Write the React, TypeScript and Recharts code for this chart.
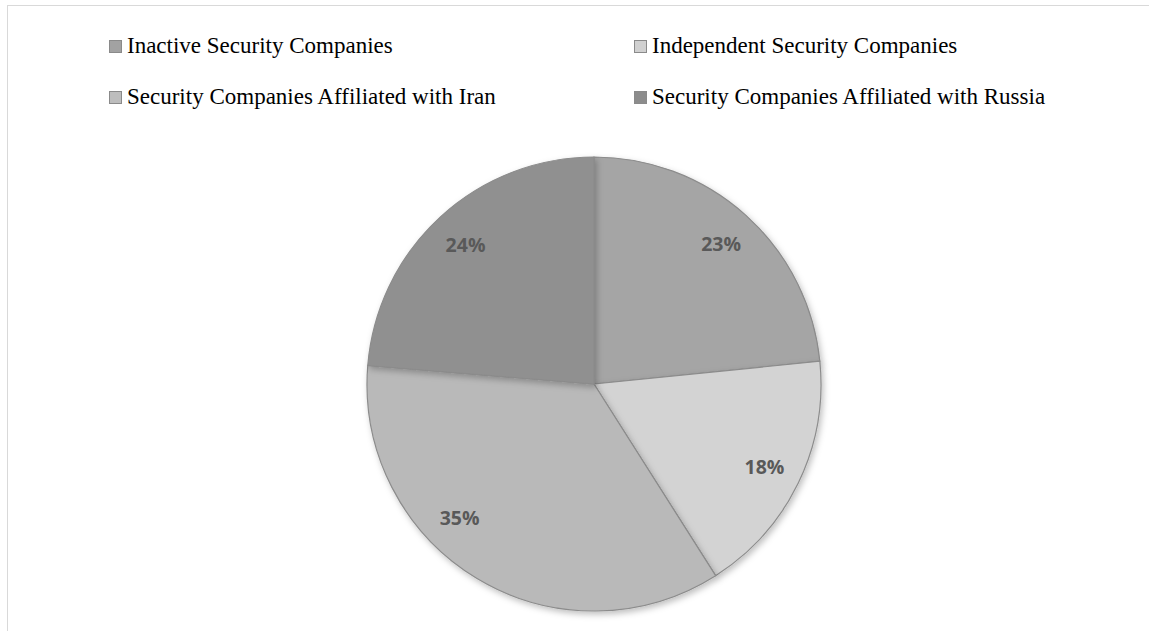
import React from 'react';
import { PieChart, Pie, Cell, Legend } from 'recharts';

const categories = [
  'Inactive Security Companies',
  'Independent Security Companies',
  'Security Companies Affiliated with Iran',
  'Security Companies Affiliated with Russia',
];
const shares = [23.4, 17.6, 35.3, 23.7];
const colors = ['#a5a5a5', '#d3d3d3', '#b9b9b9', '#909090'];
const legendColors = ['#a2a2a2', '#d0d0d0', '#bdbdbd', '#8c8c8c'];
const labelAngleShift = [0, 0, -14, 0];

const data = categories.map((name, i) => ({ name, value: shares[i] }));

const RAD = Math.PI / 180;

const renderLabel = (props: any) => {
  const { cx, cy, midAngle, outerRadius, value, index } = props;
  const a = (midAngle + labelAngleShift[index]) * RAD;
  const r = outerRadius * 0.835;
  const x = cx + r * Math.cos(a);
  const y = cy - r * Math.sin(a);
  return (
    <text
      x={x}
      y={y}
      fill="#595959"
      textAnchor="middle"
      dominantBaseline="central"
      style={{ fontFamily: '"Open Sans", "Liberation Sans", sans-serif', fontWeight: 700, fontSize: 19.5 }}
    >
      {`${Math.round(value)}%`}
    </text>
  );
};

const renderLegend = () => {
  const colX = [109, 634];
  const rowY = [40, 91];
  return (
    <div style={{ position: 'relative', width: 1149, height: 120 }}>
      {categories.map((c, i) => (
        <div
          key={c}
          style={{
            position: 'absolute',
            left: colX[i % 2],
            top: rowY[Math.floor(i / 2)] - 8,
            display: 'flex',
            alignItems: 'center',
            fontFamily: '"Liberation Serif", "Times New Roman", serif',
            fontSize: 23,
            color: '#000',
            whiteSpace: 'nowrap',
            lineHeight: '28px',
          }}
        >
          <span
            style={{
              display: 'inline-block',
              width: 11,
              height: 11,
              background: legendColors[i],
              border: '1px solid #8a8a8a',
              marginRight: 5,
              boxSizing: 'content-box',
            }}
          />
          {c}
        </div>
      ))}
    </div>
  );
};

export default function App() {
  return (
    <div style={{ position: 'absolute', left: 0, top: 0, width: 1149, height: 631, background: '#fff', overflow: 'hidden' }}>
      <div
        style={{
          position: 'absolute',
          left: 7,
          top: 5,
          width: 1160,
          height: 640,
          borderTop: '1px solid #d9d9d9',
          borderLeft: '1px solid #d9d9d9',
          boxSizing: 'border-box',
        }}
      />
      <div style={{ position: 'absolute', left: 0, top: 0 }}>
        <PieChart width={1149} height={631} margin={{ top: 0, right: 0, bottom: 0, left: 0 }}>
          <defs>
            <filter id="pieShadow" x="-10%" y="-10%" width="120%" height="120%">
              <feDropShadow dx="2" dy="3" stdDeviation="3" floodColor="#000" floodOpacity="0.25" />
            </filter>
          </defs>
          <Legend
            content={renderLegend}
            wrapperStyle={{ position: 'absolute', left: 0, top: 0, width: 1149 }}
          />
          <Pie
            data={data}
            dataKey="value"
            nameKey="name"
            cx={594}
            cy={384}
            outerRadius={227}
            startAngle={90}
            endAngle={-270}
            stroke="#8c8c8c"
            strokeWidth={1.2}
            label={renderLabel}
            labelLine={false}
            isAnimationActive={false}
            style={{ filter: 'url(#pieShadow)' }}
          >
            {data.map((d, i) => (
              <Cell key={d.name} fill={colors[i]} />
            ))}
          </Pie>
        </PieChart>
      </div>
    </div>
  );
}
